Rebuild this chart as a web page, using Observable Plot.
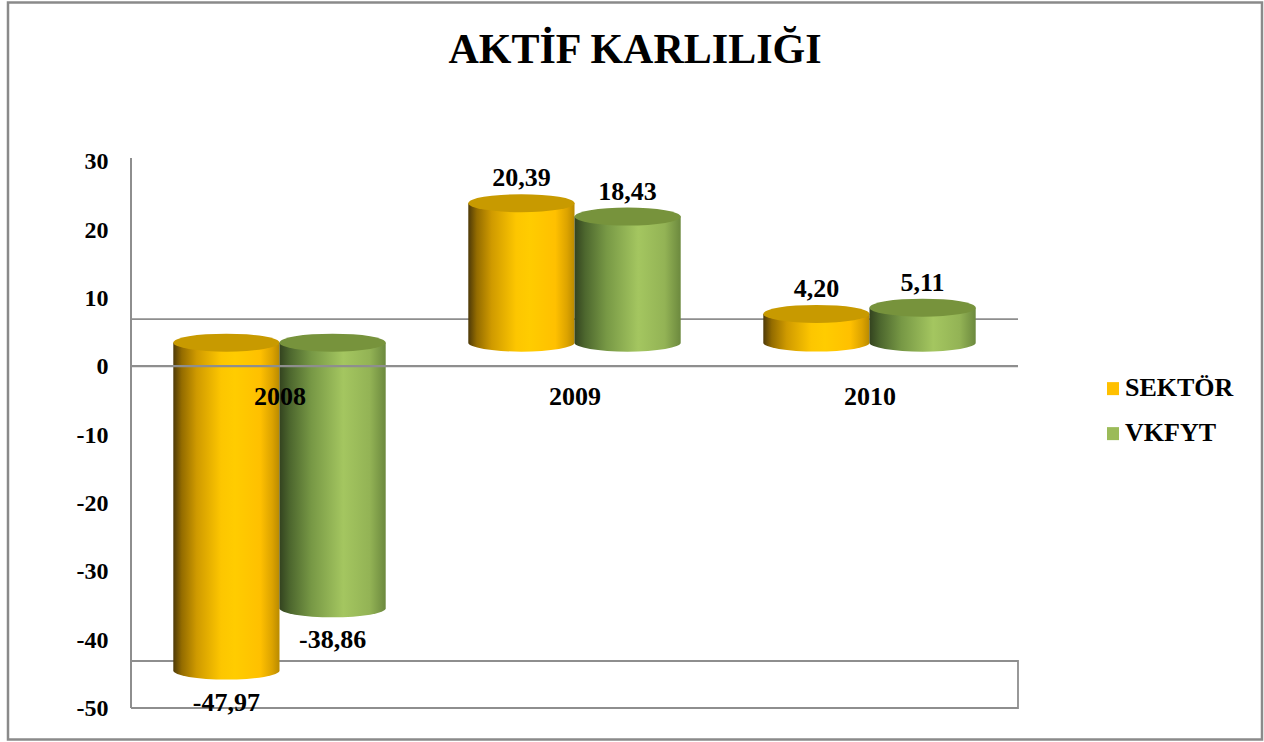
<!DOCTYPE html>
<html><head><meta charset="utf-8">
<script src="https://cdn.jsdelivr.net/npm/d3@7"></script>
<script src="https://cdn.jsdelivr.net/npm/@observablehq/plot@0.6"></script>
<style>html,body{margin:0;padding:0;background:#fff}</style>
</head><body><div id="chart"></div>
<script>
const chartTitle = "AKTİF KARLILIĞI";
const years = ["2008", "2009", "2010"];
const series = ["SEKTÖR", "VKFYT"];
const sektor = [-47.97, 20.39, 4.20];
const vkfyt = [-38.86, 18.43, 5.11];
const yTicks = [-50, -40, -30, -20, -10, 0, 10, 20, 30];
const legendColors = ["#FFC000", "#9BBB59"];

const data = years.flatMap((year, i) => [
  {year, series: series[0], value: sektor[i]},
  {year, series: series[1], value: vkfyt[i]}
]);

const FONT = "'Liberation Serif', 'Times New Roman', serif";
const fmt = v => v.toFixed(2).replace(".", ",");

const gradStops = [
  [[0, "#4e3a08"], [0.08, "#946c00"], [0.22, "#cf9a00"], [0.45, "#fdc600"], [0.58, "#ffcc00"], [0.82, "#ffc000"], [0.93, "#dca300"], [1, "#b98a00"]],
  [[0, "#33431f"], [0.1, "#4d672e"], [0.3, "#779845"], [0.6, "#a4c660"], [0.85, "#93b355"], [1, "#6c893e"]]
];
const capColors = ["#c89a00", "#77933c"];

function cylinders(index, scales, values, dim) {
  const x = scales.x, y = scales.y;
  const bw = x.bandwidth();
  const depth = 47, lift = depth / 2;
  const rx = bw * 0.18, ry = 9;
  const [x0, x1] = x.range();
  const y0 = y(0), yb = y(-50);
  const grid = "#8e8e8e";
  const g = d3.create("svg:g");
  const defs = g.append("defs");
  gradStops.forEach((stops, i) => {
    const lg = defs.append("linearGradient").attr("id", "cyl" + i).attr("x1", 0).attr("x2", 1).attr("y1", 0).attr("y2", 0);
    stops.forEach(([o, c]) => lg.append("stop").attr("offset", o).attr("stop-color", c));
  });
  // outer border
  g.append("rect").attr("x", 8).attr("y", 2.5).attr("width", dim.width - 10).attr("height", dim.height - 5)
    .attr("fill", "none").attr("stroke", "#8a8a8a").attr("stroke-width", 2.5);
  // back floor line
  g.append("line").attr("x1", x0).attr("x2", x1).attr("y1", y0 - depth).attr("y2", y0 - depth)
    .attr("stroke", grid).attr("stroke-width", 1.6);
  // bottom box
  g.append("path").attr("d", `M${x0},${yb - depth}H${x1}V${yb}H${x0}`)
    .attr("fill", "none").attr("stroke", grid).attr("stroke-width", 1.8);
  // axis line
  g.append("line").attr("x1", x0).attr("x2", x0).attr("y1", y(30) - 3).attr("y2", yb)
    .attr("stroke", grid).attr("stroke-width", 2);
  // cylinders
  data.forEach(d => {
    const si = series.indexOf(d.series);
    const cx = x(d.year) + bw / 2 + (si === 0 ? -rx : rx);
    const yBase = y0 - lift, yVal = y(d.value) - lift;
    const yTop = Math.min(yBase, yVal), yBot = Math.max(yBase, yVal);
    g.append("path")
      .attr("d", `M${cx - rx},${yTop}V${yBot}A${rx},${ry} 0 0 0 ${cx + rx},${yBot}V${yTop}Z`)
      .attr("fill", `url(#cyl${si})`);
    g.append("ellipse").attr("cx", cx).attr("cy", yTop).attr("rx", rx).attr("ry", ry)
      .attr("fill", capColors[si]);
  });
  // front zero line
  g.append("line").attr("x1", x0).attr("x2", x1).attr("y1", y0).attr("y2", y0)
    .attr("stroke", grid).attr("stroke-width", 2.2);
  // data labels
  data.forEach(d => {
    const si = series.indexOf(d.series);
    const cx = x(d.year) + bw / 2 + (si === 0 ? -rx : rx);
    const yVal = y(d.value) - lift;
    g.append("text").attr("x", cx).attr("y", d.value >= 0 ? yVal - 17 : yVal + 40)
      .attr("text-anchor", "middle").attr("font-family", FONT).attr("font-weight", "bold")
      .attr("font-size", 26).attr("fill", "#000").text(fmt(d.value));
  });
  // title
  g.append("text").attr("x", dim.width / 2 + 3).attr("y", 63).attr("text-anchor", "middle")
    .attr("font-family", FONT).attr("font-weight", "bold").attr("font-size", 42).attr("fill", "#000")
    .text(chartTitle);
  // legend
  const lx = x1 + 89;
  series.forEach((s, i) => {
    const by = y0 + 30 + i * 45;
    g.append("rect").attr("x", lx).attr("y", by - 14).attr("width", 12).attr("height", 13).attr("fill", legendColors[i]);
    g.append("text").attr("x", lx + 18).attr("y", by).attr("text-anchor", "start")
      .attr("font-family", FONT).attr("font-weight", "bold")
      .attr("font-size", 26).attr("fill", "#000").text(s);
  });
  return g.node();
}

const chart = Plot.plot({
  width: 1264,
  height: 742,
  marginLeft: 131,
  marginRight: 246,
  marginTop: 161,
  marginBottom: 34,
  style: {fontFamily: FONT, background: "#fff", overflow: "visible"},
  x: {type: "band", domain: years, padding: 0, axis: null},
  y: {domain: [-50, 30], axis: null},
  marks: [
    cylinders,
    Plot.axisY(yTicks, {tickSize: 0, tickPadding: 23, tickFormat: d => String(d), fontSize: 24, fontWeight: "bold", fontFamily: FONT, fill: "#000"}),
    Plot.text(years, {x: d => d, y: () => 0, dy: 38, lineAnchor: "bottom", text: d => d, fontSize: 26, fontWeight: "bold", fontFamily: FONT, fill: "#000"})
  ]
});
document.getElementById("chart").appendChild(chart);
</script>
</body></html>
